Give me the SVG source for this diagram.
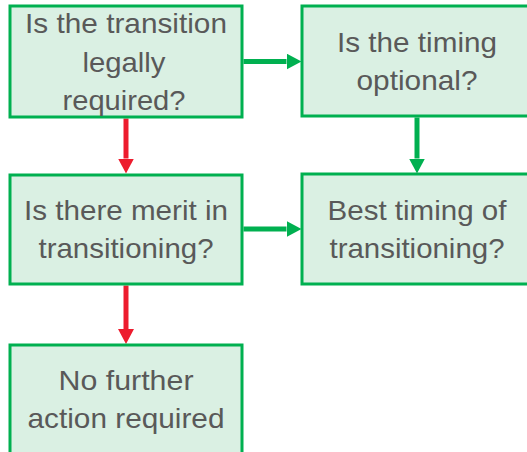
<svg xmlns="http://www.w3.org/2000/svg" width="527" height="452" viewBox="0 0 527 452">
  <style>
    .box { fill: #daf0e3; stroke: #00b050; stroke-width: 3; }
    .lbl { font-family: "Liberation Sans", Arial, sans-serif; font-size: 28px; fill: #595959; text-anchor: middle; }
    .yes { stroke: #00b050; stroke-width: 5; fill: none; }
    .no { stroke: #ed1c2e; stroke-width: 5; fill: none; }
  </style>
  <defs>
    <marker id="headGreen" viewBox="0 0 15 16" refX="0" refY="8" markerWidth="15" markerHeight="16" markerUnits="userSpaceOnUse" orient="auto">
      <path d="M0,0 L15,8 L0,16 Z" fill="#00b050"/>
    </marker>
    <marker id="headRed" viewBox="0 0 15 16" refX="0" refY="8" markerWidth="15" markerHeight="16" markerUnits="userSpaceOnUse" orient="auto">
      <path d="M0,0 L15,8 L0,16 Z" fill="#ed1c2e"/>
    </marker>
  </defs>

  <g id="connectors">
    <path class="yes" d="M243.5,61.5 H286.5" marker-end="url(#headGreen)"/>
    <path class="yes" d="M417,117.5 V158.5" marker-end="url(#headGreen)"/>
    <path class="yes" d="M243.5,229 H286.5" marker-end="url(#headGreen)"/>
    <path class="no" d="M126,118.5 V158.5" marker-end="url(#headRed)"/>
    <path class="no" d="M126,285.5 V329" marker-end="url(#headRed)"/>
  </g>

  <g id="legally-required">
    <rect class="box" x="10" y="6" width="232" height="111"/>
    <text class="lbl" x="126" y="33" textLength="202" lengthAdjust="spacingAndGlyphs">Is the transition</text>
    <text class="lbl" x="124" y="72" textLength="83" lengthAdjust="spacingAndGlyphs">legally</text>
    <text class="lbl" x="124" y="110" textLength="123" lengthAdjust="spacingAndGlyphs">required?</text>
  </g>

  <g id="timing-optional">
    <rect class="box" x="302" y="6" width="230" height="110"/>
    <text class="lbl" x="417" y="52" textLength="160" lengthAdjust="spacingAndGlyphs">Is the timing</text>
    <text class="lbl" x="417" y="90" textLength="121" lengthAdjust="spacingAndGlyphs">optional?</text>
  </g>

  <g id="merit">
    <rect class="box" x="10" y="175" width="232" height="109"/>
    <text class="lbl" x="126" y="220" textLength="204" lengthAdjust="spacingAndGlyphs">Is there merit in</text>
    <text class="lbl" x="126" y="258" textLength="175" lengthAdjust="spacingAndGlyphs">transitioning?</text>
  </g>

  <g id="best-timing">
    <rect class="box" x="302" y="174" width="230" height="110"/>
    <text class="lbl" x="417" y="220" textLength="179" lengthAdjust="spacingAndGlyphs">Best timing of</text>
    <text class="lbl" x="417" y="258" textLength="175" lengthAdjust="spacingAndGlyphs">transitioning?</text>
  </g>

  <g id="no-further-action">
    <rect class="box" x="10" y="345" width="232" height="112"/>
    <text class="lbl" x="126" y="390" textLength="135" lengthAdjust="spacingAndGlyphs">No further</text>
    <text class="lbl" x="126" y="428" textLength="197" lengthAdjust="spacingAndGlyphs">action required</text>
  </g>
</svg>
